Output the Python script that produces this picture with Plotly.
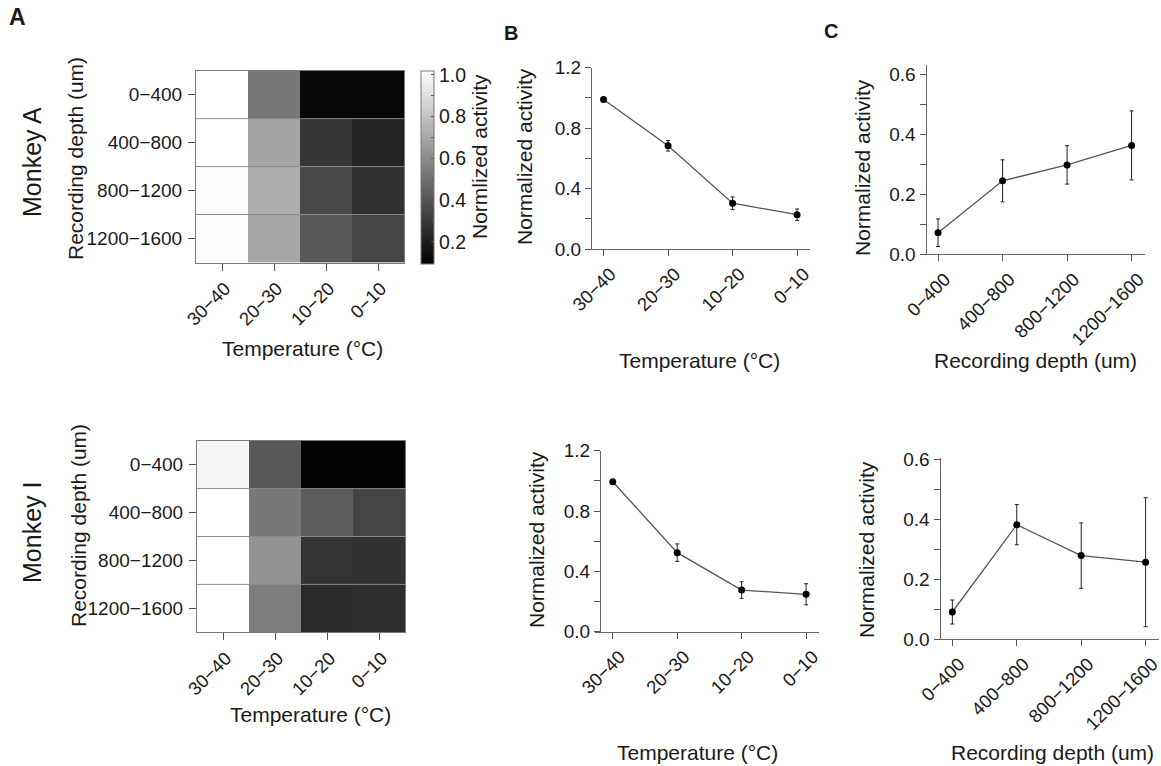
import plotly.graph_objects as go

W, H = 1161, 766

# ---------------- data ----------------
temps = ["30−40", "20−30", "10−20", "0−10"]
depths = ["0−400", "400−800", "800−1200", "1200−1600"]

# normalized activity heatmaps (rows = depth, cols = temperature)
heat_monkey_A = [
    [1.02, 0.531, 0.125, 0.118],
    [1.02, 0.694, 0.292, 0.226],
    [1.005, 0.723, 0.357, 0.270],
    [1.005, 0.698, 0.415, 0.346],
]
heat_monkey_I = [
    [0.984, 0.415, 0.110, 0.107],
    [1.02, 0.531, 0.433, 0.346],
    [1.02, 0.625, 0.281, 0.277],
    [1.02, 0.553, 0.248, 0.263],
]

temp_A_mean = [0.990, 0.683, 0.303, 0.227]
temp_A_err = [0.010, 0.035, 0.042, 0.038]
temp_I_mean = [0.994, 0.524, 0.276, 0.248]
temp_I_err = [0.010, 0.058, 0.055, 0.070]

depth_A_mean = [0.072, 0.245, 0.298, 0.363]
depth_A_err = [0.046, 0.070, 0.064, 0.115]
depth_I_mean = [0.090, 0.381, 0.278, 0.256]
depth_I_err = [0.040, 0.067, 0.109, 0.215]

# ---------------- helpers ----------------
FONT = "Arial, Liberation Sans, sans-serif"
TXT = "#1a1a1a"


def fx(px):
    return px / W


def fy(py):
    return 1 - py / H


fig = go.Figure()

gray_scale = [[0, "#000000"], [1, "#ffffff"]]
ZMIN, ZMAX = 0.096, 1.02

fig.add_trace(go.Heatmap(
    z=heat_monkey_A, x=temps, y=depths, colorscale=gray_scale,
    zmin=ZMIN, zmax=ZMAX, xaxis="x", yaxis="y", showscale=True,
    colorbar=dict(
        x=fx(420.7), xanchor="left", xpad=0, ypad=0,
        y=fy(167), yanchor="middle", len=192.6, lenmode="pixels",
        thickness=12.7, thicknessmode="pixels",
        outlinewidth=1, outlinecolor="#777",
        tickvals=[0.1, 0.2, 0.3, 0.4, 0.5, 0.6, 0.7, 0.8, 0.9, 1.0],
        ticktext=["", "0.2", "", "0.4", "", "0.6", "", "0.8", "", "1.0"],
        ticks="inside", ticklen=3, tickcolor="#555", tickwidth=1,
        tickfont=dict(family=FONT, size=19.5, color=TXT),
    ),
))
fig.add_trace(go.Heatmap(
    z=heat_monkey_I, x=temps, y=depths, colorscale=gray_scale,
    zmin=ZMIN, zmax=ZMAX, xaxis="x2", yaxis="y2", showscale=False,
))

line_style = dict(color="#555555", width=1.3)
marker_style = dict(color="#000000", size=7)


def err(arr):
    return dict(type="data", array=arr, color="#222", thickness=1, width=2)


fig.add_trace(go.Scatter(x=temps, y=temp_A_mean, error_y=err(temp_A_err),
                         mode="lines+markers", line=line_style, marker=marker_style,
                         xaxis="x3", yaxis="y3", showlegend=False))
fig.add_trace(go.Scatter(x=temps, y=temp_I_mean, error_y=err(temp_I_err),
                         mode="lines+markers", line=line_style, marker=marker_style,
                         xaxis="x4", yaxis="y4", showlegend=False))
fig.add_trace(go.Scatter(x=depths, y=depth_A_mean, error_y=err(depth_A_err),
                         mode="lines+markers", line=line_style, marker=marker_style,
                         xaxis="x5", yaxis="y5", showlegend=False))
fig.add_trace(go.Scatter(x=depths, y=depth_I_mean, error_y=err(depth_I_err),
                         mode="lines+markers", line=line_style, marker=marker_style,
                         xaxis="x6", yaxis="y6", showlegend=False))

# ---------------- axes ----------------
tickfont = dict(family=FONT, size=19, color=TXT)
rot_tickfont = dict(family=FONT, size=18.5, color=TXT)


def heat_x(x0, x1, anchor):
    return dict(domain=[fx(x0), fx(x1)], anchor=anchor, type="category",
                range=[-0.5, 3.5], showline=True, mirror=True, linecolor="#7a7a7a",
                linewidth=1, ticks="outside", ticklen=7, tickcolor="#555",
                tickangle=-45, tickfont=rot_tickfont, ticklabelshift=3,
                showgrid=False, zeroline=False, automargin=False, fixedrange=True)


def heat_y(y_top, y_bot, anchor):
    return dict(domain=[fy(y_bot), fy(y_top)], anchor=anchor, type="category",
                range=[3.5, -0.5], showline=True, mirror=True, linecolor="#7a7a7a",
                linewidth=1, ticks="outside", ticklen=7, tickcolor="#555",
                tickfont=tickfont, ticklabelstandoff=2, showgrid=False,
                zeroline=False, automargin=False, fixedrange=True)


def line_x(x0, x1, anchor):
    return dict(domain=[fx(x0), fx(x1)], anchor=anchor, type="category",
                range=[-0.28, 3.2], showline=True, linecolor="#666", linewidth=1,
                ticks="outside", ticklen=6, tickcolor="#555", tickangle=-45,
                tickfont=rot_tickfont, ticklabelshift=7, showgrid=False,
                zeroline=False, automargin=False, fixedrange=True)


def line_y(y_top, y_bot, pos, rng, vals, texts):
    return dict(domain=[fy(y_bot), fy(y_top)], anchor="free", position=fx(pos),
                range=rng, showline=True, linecolor="#666", linewidth=1,
                ticks="outside", ticklen=6, tickcolor="#555",
                tickvals=vals, ticktext=texts, tickfont=tickfont,
                showgrid=False, zeroline=False, automargin=False, fixedrange=True)


b_vals = [0, 0.2, 0.4, 0.6, 0.8, 1.0, 1.2]
b_text = ["0.0", "", "0.4", "", "0.8", "", "1.2"]
c_vals = [0, 0.1, 0.2, 0.3, 0.4, 0.5, 0.6]
c_text = ["0.0", "", "0.2", "", "0.4", "", "0.6"]

fig.update_layout(
    xaxis=heat_x(196, 404, "y"),
    yaxis=heat_y(70.7, 262.5, "x"),
    xaxis2=heat_x(197, 405, "y2"),
    yaxis2=heat_y(440.7, 632.3, "x2"),
    xaxis3=line_x(585.5, 810, "y3"),
    yaxis3=line_y(67.7, 249, 591, [0, 1.2], b_vals, b_text),
    xaxis4=line_x(594.7, 819, "y4"),
    yaxis4=line_y(450.7, 631.7, 600, [0, 1.2], b_vals, b_text),
    xaxis5=line_x(920, 1144.5, "y5"),
    yaxis5=line_y(65.3, 254.3, 925.5, [0, 0.63], c_vals, c_text),
    xaxis6=line_x(934.3, 1158.5, "y6"),
    yaxis6=line_y(457.5, 639, 939.5, [0, 0.605], c_vals, c_text),
)

# row separator lines in heatmaps
shapes = []
for xr, yr in (("x", "y"), ("x2", "y2")):
    for i in range(len(depths) - 1):
        shapes.append(dict(type="line", xref=f"{xr} domain", yref=yr,
                           x0=0, x1=1, y0=i + 0.5, y1=i + 0.5,
                           line=dict(color="#8a8a8a", width=1)))

# ---------------- text ----------------
ann = []


def add_text(text, x, y, size=21, angle=0, bold=False):
    ann.append(dict(text=f"<b>{text}</b>" if bold else text, x=fx(x), y=fy(y),
                    xref="paper", yref="paper", xanchor="center", yanchor="middle",
                    showarrow=False, textangle=angle,
                    font=dict(family=FONT, size=size, color=TXT)))


add_text("A", 17, 17, size=23, bold=True)
add_text("B", 511, 33, size=20, bold=True)
add_text("C", 831, 31, size=20, bold=True)

add_text("Monkey A", 32, 162, size=25, angle=-90)
add_text("Monkey I", 32, 533, size=25, angle=-90)

add_text("Recording depth (um)", 75, 159, angle=-90)
add_text("Recording depth (um)", 78, 526, angle=-90)
add_text("Temperature (°C)", 302, 348)
add_text("Temperature (°C)", 310, 714)
add_text("Normlized activity", 480, 157, angle=-90)

add_text("Normalized activity", 525, 157, angle=-90)
add_text("Normalized activity", 536, 540, angle=-90)
add_text("Temperature (°C)", 700, 360)
add_text("Temperature (°C)", 697, 752)

add_text("Normalized activity", 862, 168, angle=-90)
add_text("Normalized activity", 866, 550, angle=-90)
add_text("Recording depth (um)", 1035, 360)
add_text("Recording depth (um)", 1052, 752)

fig.update_layout(
    width=W, height=H, autosize=False,
    margin=dict(l=0, r=0, t=0, b=0, pad=0, autoexpand=False),
    paper_bgcolor="white", plot_bgcolor="white",
    showlegend=False,
    annotations=ann, shapes=shapes,
    font=dict(family=FONT, color=TXT),
)

# remove the default page margin so the figure fills the window exactly
fig.write_html(
    "out.html",
    config={"displayModeBar": False, "staticPlot": True},
    post_script="document.body.style.margin='0';document.body.style.overflow='hidden';",
)
